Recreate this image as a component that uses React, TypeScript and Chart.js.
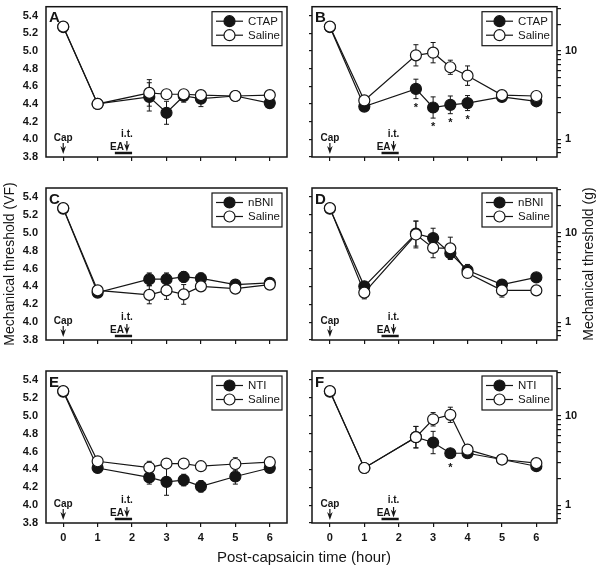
import React, { useEffect, useRef } from 'react';
import { Chart, registerables } from 'chart.js';

Chart.register(...registerables);

// ---------------- data ----------------
const hours = [0, 1, 2.5, 3, 3.5, 4, 5, 6];
const xTicks = [0, 1, 2, 3, 4, 5, 6];
const vfTicks = [3.8, 4.0, 4.2, 4.4, 4.6, 4.8, 5.0, 5.2, 5.4];
const gTicks = [0.7, 0.8, 0.9, 1, 2, 3, 4, 5, 6, 7, 8, 9, 10, 20, 30];
const gLabeled = [1, 10];

const salineName = 'Saline';
const xTitle = 'Post-capsaicin time (hour)';
const vfTitle = 'Mechanical threshold (VF)';
const gTitle = 'Mechanical threshold (g)';

// Panel A (CTAP, VF)
const ctapA = [5.27, 4.4, 4.48, 4.3, 4.49, 4.46, 4.49, 4.41];
const ctapAErr = [0.02, 0.02, 0.16, 0.13, 0.07, 0.09, 0.02, 0.02];
const salineA = [5.275, 4.4, 4.525, 4.51, 4.51, 4.5, 4.49, 4.5];
const salineAErr = [0.02, 0.02, 0.15, 0.03, 0.03, 0.03, 0.03, 0.02];

// Panel B (CTAP, g)
const ctapB = [5.27, 4.37, 4.57, 4.36, 4.39, 4.41, 4.48, 4.43];
const ctapBErr = [0.02, 0.03, 0.11, 0.12, 0.1, 0.085, 0.03, 0.03];
const salineB = [5.275, 4.44, 4.95, 4.98, 4.815, 4.72, 4.5, 4.49];
const salineBErr = [0.02, 0.03, 0.12, 0.115, 0.08, 0.11, 0.03, 0.03];
const starsB = [2.5, 3, 3.5, 4];

// Panel C (nBNI, VF)
const nbniC = [5.27, 4.33, 4.48, 4.48, 4.505, 4.49, 4.42, 4.44];
const nbniCErr = [0.02, 0.02, 0.07, 0.07, 0.06, 0.06, 0.03, 0.03];
const salineC = [5.275, 4.355, 4.305, 4.355, 4.31, 4.4, 4.375, 4.42];
const salineCErr = [0.02, 0.02, 0.1, 0.1, 0.11, 0.04, 0.03, 0.03];

// Panel D (nBNI, g)
const nbniD = [5.27, 4.4, 4.99, 4.94, 4.77, 4.58, 4.42, 4.5];
const nbniDErr = [0.02, 0.03, 0.14, 0.11, 0.06, 0.065, 0.03, 0.03];
const salineD = [5.275, 4.33, 4.98, 4.83, 4.825, 4.55, 4.355, 4.355];
const salineDErr = [0.02, 0.07, 0.15, 0.11, 0.125, 0.04, 0.075, 0.03];

// Panel E (NTI, VF)
const ntiE = [5.27, 4.415, 4.31, 4.26, 4.28, 4.21, 4.32, 4.415];
const ntiEErr = [0.02, 0.03, 0.075, 0.15, 0.065, 0.065, 0.085, 0.03];
const salineE = [5.275, 4.49, 4.42, 4.465, 4.465, 4.435, 4.46, 4.48];
const salineEErr = [0.02, 0.03, 0.07, 0.03, 0.03, 0.03, 0.07, 0.03];

// Panel F (NTI, g)
const ntiF = [5.27, 4.415, 4.76, 4.7, 4.58, 4.58, 4.51, 4.435];
const ntiFErr = [0.02, 0.03, 0.12, 0.125, 0.03, 0.03, 0.03, 0.03];
const salineF = [5.275, 4.415, 4.76, 4.96, 5.01, 4.62, 4.51, 4.47];
const salineFErr = [0.02, 0.03, 0.12, 0.075, 0.085, 0.03, 0.03, 0.03];
const starsF = [3.5];

// protocol annotations (hours)
const capTime = 0;
const eaStart = 1.5;
const eaEnd = 2.0;
const itTime = 1.85;

// ---------------- styling ----------------
const FONT = '"Liberation Sans", Arial, Helvetica, sans-serif';
const INK = '#151515';
const R = 5.5;

type Panel = {
  letter: string;
  drugName: string;
  drug: number[];
  drugErr: number[];
  saline: number[];
  salineErr: number[];
  stars: number[];
  right: boolean;
  bottom: boolean;
  left: number;
  top: number;
  width: number;
  height: number;
  padTop: number;
  padRight: number;
  xAxisH: number;
  vTitle?: string;
  vTitleX?: number;
  xTitleAt?: [number, number];
};

const panels: Panel[] = [
  { letter: 'A', drugName: 'CTAP', drug: ctapA, drugErr: ctapAErr, saline: salineA, salineErr: salineAErr, stars: [],
    right: false, bottom: false, left: 0, top: 0, width: 300, height: 183, padTop: 5, padRight: 13, xAxisH: 26 },
  { letter: 'B', drugName: 'CTAP', drug: ctapB, drugErr: ctapBErr, saline: salineB, salineErr: salineBErr, stars: starsB,
    right: true, bottom: false, left: 300, top: 0, width: 300, height: 183, padTop: 5, padRight: 0, xAxisH: 26 },
  { letter: 'C', drugName: 'nBNI', drug: nbniC, drugErr: nbniCErr, saline: salineC, salineErr: salineCErr, stars: [],
    right: false, bottom: false, left: 0, top: 175, width: 300, height: 191, padTop: 13, padRight: 13, xAxisH: 26,
    vTitle: vfTitle, vTitleX: 10 },
  { letter: 'D', drugName: 'nBNI', drug: nbniD, drugErr: nbniDErr, saline: salineD, salineErr: salineDErr, stars: [],
    right: true, bottom: false, left: 300, top: 175, width: 300, height: 191, padTop: 13, padRight: 0, xAxisH: 26,
    vTitle: gTitle, vTitleX: 289 },
  { letter: 'E', drugName: 'NTI', drug: ntiE, drugErr: ntiEErr, saline: salineE, salineErr: salineEErr, stars: [],
    right: false, bottom: true, left: 0, top: 358, width: 600, height: 212, padTop: 13, padRight: 313, xAxisH: 47,
    xTitleAt: [304, 200] },
  { letter: 'F', drugName: 'NTI', drug: ntiF, drugErr: ntiFErr, saline: salineF, salineErr: salineFErr, stars: starsF,
    right: true, bottom: true, left: 300, top: 358, width: 300, height: 212, padTop: 13, padRight: 0, xAxisH: 47 },
];

const errorBarPlugin = {
  id: 'errbars',
  beforeDatasetDraw(chart: any, args: any) {
    const ds = chart.data.datasets[args.index];
    const errs: number[] = ds.errs;
    if (!errs) return;
    const ys = chart.scales.y;
    const ctx = chart.ctx;
    ctx.save();
    ctx.strokeStyle = INK;
    ctx.lineWidth = 1;
    args.meta.data.forEach((pt: any, i: number) => {
      const v = ds.data[i].y;
      const e = errs[i];
      const y1 = ys.getPixelForValue(v + e);
      const y2 = ys.getPixelForValue(v - e);
      ctx.beginPath();
      ctx.moveTo(pt.x, y1);
      ctx.lineTo(pt.x, y2);
      ctx.moveTo(pt.x - 2.5, y1);
      ctx.lineTo(pt.x + 2.5, y1);
      ctx.moveTo(pt.x - 2.5, y2);
      ctx.lineTo(pt.x + 2.5, y2);
      ctx.stroke();
    });
    ctx.restore();
  },
};

function drawArrow(ctx: CanvasRenderingContext2D, x: number, y0: number, y1: number) {
  ctx.beginPath();
  ctx.lineWidth = 1.2;
  ctx.moveTo(x, y0);
  ctx.lineTo(x, y1 - 4);
  ctx.stroke();
  ctx.beginPath();
  ctx.moveTo(x, y1);
  ctx.lineTo(x - 2.8, y1 - 8);
  ctx.lineTo(x, y1 - 5.5);
  ctx.lineTo(x + 2.8, y1 - 8);
  ctx.closePath();
  ctx.fill();
}

function makeDecor(p: Panel) {
  return {
    id: 'decor' + p.letter,
    afterDraw(chart: any) {
      const { ctx, chartArea: a, scales } = chart;
      const xs = scales.x;
      const ys = scales.y;
      ctx.save();
      ctx.strokeStyle = INK;
      ctx.fillStyle = INK;
      // frame
      ctx.lineWidth = 1.5;
      ctx.strokeRect(a.left, a.top, a.right - a.left, a.bottom - a.top);
      // panel letter
      ctx.font = `bold 15px ${FONT}`;
      ctx.textAlign = 'left';
      ctx.textBaseline = 'alphabetic';
      ctx.fillText(p.letter, a.left + 3, a.top + 15.5);
      // legend
      const bw = 70, bh = 34;
      const bx = a.right - 5 - bw, by = a.top + 5;
      ctx.fillStyle = '#fff';
      ctx.fillRect(bx, by, bw, bh);
      ctx.lineWidth = 1.2;
      ctx.strokeRect(bx, by, bw, bh);
      const rows = [
        { name: p.drugName, fill: INK },
        { name: salineName, fill: '#fff' },
      ];
      rows.forEach((r, k) => {
        const ry = by + 9.5 + k * 14;
        ctx.beginPath();
        ctx.lineWidth = 1.2;
        ctx.moveTo(bx + 4, ry);
        ctx.lineTo(bx + 31, ry);
        ctx.stroke();
        ctx.beginPath();
        ctx.arc(bx + 17.5, ry, R, 0, Math.PI * 2);
        ctx.fillStyle = r.fill;
        ctx.fill();
        ctx.stroke();
        ctx.fillStyle = INK;
        ctx.font = `11.5px ${FONT}`;
        ctx.textAlign = 'left';
        ctx.textBaseline = 'middle';
        ctx.fillText(r.name, bx + 36, ry + 0.5);
      });
      // protocol annotations
      const B = a.bottom;
      ctx.fillStyle = INK;
      ctx.font = `bold 10px ${FONT}`;
      ctx.textAlign = 'center';
      ctx.textBaseline = 'middle';
      const cx = xs.getPixelForValue(capTime);
      ctx.fillText('Cap', cx, B - 19);
      drawArrow(ctx, cx, B - 14, B - 3);
      const ix = xs.getPixelForValue(itTime);
      ctx.fillText('i.t.', ix, B - 22.5);
      drawArrow(ctx, ix, B - 16, B - 5.5);
      ctx.textAlign = 'right';
      ctx.fillText('EA', ix - 3, B - 10);
      ctx.beginPath();
      ctx.lineWidth = 2.5;
      ctx.moveTo(xs.getPixelForValue(eaStart), B - 4);
      ctx.lineTo(xs.getPixelForValue(eaEnd), B - 4);
      ctx.stroke();
      // significance stars
      ctx.font = `bold 11px ${FONT}`;
      ctx.textAlign = 'center';
      ctx.textBaseline = 'alphabetic';
      p.stars.forEach((h) => {
        const i = hours.indexOf(h);
        const v = p.drug[i];
        const e = p.drugErr[i];
        const yEnd = Math.max(ys.getPixelForValue(v - e), ys.getPixelForValue(v) + R);
        const c = yEnd + 6;
        ctx.fillText('*', xs.getPixelForValue(h), c + 6);
      });
      // axis titles
      if (p.vTitle) {
        ctx.save();
        ctx.translate(p.vTitleX, (a.top + a.bottom) / 2);
        ctx.rotate(-Math.PI / 2);
        ctx.font = `14px ${FONT}`;
        ctx.textAlign = 'center';
        ctx.textBaseline = 'middle';
        ctx.fillText(p.vTitle, 0, 0);
        ctx.restore();
      }
      if (p.xTitleAt) {
        ctx.font = `15px ${FONT}`;
        ctx.textAlign = 'center';
        ctx.textBaseline = 'middle';
        ctx.fillText(xTitle, p.xTitleAt[0], p.xTitleAt[1]);
      }
      ctx.restore();
    },
  };
}

function makeConfig(p: Panel): any {
  const xMin = p.right ? -0.52 : -0.5;
  const xMax = p.right ? 6.6 : 6.5;
  const tickFont = { family: FONT, size: 11, weight: 'bold' as const };
  const mk = (label: string, vals: number[], errs: number[], fill: string) => ({
    label,
    data: hours.map((h, i) => ({ x: h, y: vals[i] })),
    errs,
    borderColor: INK,
    borderWidth: 1.2,
    backgroundColor: fill,
    pointBackgroundColor: fill,
    pointBorderColor: INK,
    pointBorderWidth: 1.2,
    pointRadius: R,
    pointHoverRadius: R,
    fill: false,
    tension: 0,
    clip: false,
  });
  const scales: any = {
    x: {
      type: 'linear',
      min: xMin,
      max: xMax,
      afterBuildTicks: (s: any) => { s.ticks = xTicks.map((v) => ({ value: v })); },
      afterFit: (s: any) => { s.height = p.xAxisH; s.paddingLeft = 0; s.paddingRight = 0; },
      grid: { display: true, drawOnChartArea: false, drawTicks: true, tickLength: 4, color: INK, lineWidth: 1.2 },
      border: { display: false },
      ticks: {
        display: p.bottom, autoSkip: false, maxRotation: 0, padding: 4, color: INK, font: tickFont,
        callback: (v: any) => String(v),
      },
    },
    y: {
      type: 'linear',
      position: 'left',
      min: 3.8,
      max: 5.5,
      afterBuildTicks: (s: any) => { s.ticks = vfTicks.map((v) => ({ value: v })); },
      afterFit: (s: any) => { s.width = p.right ? 12 : 46; s.paddingTop = 0; s.paddingBottom = 0; },
      grid: { display: p.right, drawOnChartArea: false, drawTicks: p.right, tickLength: 3, color: INK, lineWidth: 1.2 },
      border: { display: false },
      ticks: {
        display: !p.right, autoSkip: false, padding: 8, color: INK, font: tickFont,
        callback: (v: any) => Number(v).toFixed(1),
      },
    },
  };
  if (p.right) {
    scales.y2 = {
      type: 'linear',
      position: 'right',
      min: 3.8,
      max: 5.5,
      afterBuildTicks: (s: any) => { s.ticks = gTicks.map((g) => ({ value: 4 + Math.log10(g) })); },
      afterFit: (s: any) => { s.width = 43; s.paddingTop = 0; s.paddingBottom = 0; },
      grid: { display: true, drawOnChartArea: false, drawTicks: true, tickLength: 4, color: INK, lineWidth: 1.2 },
      border: { display: false },
      ticks: {
        autoSkip: false, padding: 4, color: INK, font: tickFont,
        callback: (v: any) => {
          const g = Math.round(Math.pow(10, Number(v) - 4) * 10) / 10;
          return gLabeled.includes(g) ? String(g) : '';
        },
      },
    };
  }
  return {
    type: 'line',
    data: {
      datasets: [
        mk(salineName, p.saline, p.salineErr, '#ffffff'),
        mk(p.drugName, p.drug, p.drugErr, INK),
      ],
    },
    options: {
      animation: false,
      responsive: false,
      maintainAspectRatio: false,
      devicePixelRatio: 1,
      events: [],
      layout: { padding: { top: p.padTop, right: p.padRight, left: 0, bottom: 0 } },
      plugins: { legend: { display: false }, tooltip: { enabled: false }, title: { display: false } },
      scales,
    },
    plugins: [errorBarPlugin, makeDecor(p)],
  };
}

export default function App() {
  const refs = useRef<(HTMLCanvasElement | null)[]>([]);
  useEffect(() => {
    const charts = panels.map((p, i) => new Chart(refs.current[i] as HTMLCanvasElement, makeConfig(p)));
    return () => charts.forEach((c) => c.destroy());
  }, []);
  return (
    <div style={{ position: 'fixed', left: 0, top: 0, width: 600, height: 570, background: '#fff', overflow: 'hidden' }}>
      {panels.map((p, i) => (
        <canvas
          key={p.letter}
          ref={(el) => { refs.current[i] = el; }}
          width={p.width}
          height={p.height}
          style={{ position: 'absolute', left: p.left, top: p.top, width: p.width, height: p.height }}
        />
      ))}
    </div>
  );
}
